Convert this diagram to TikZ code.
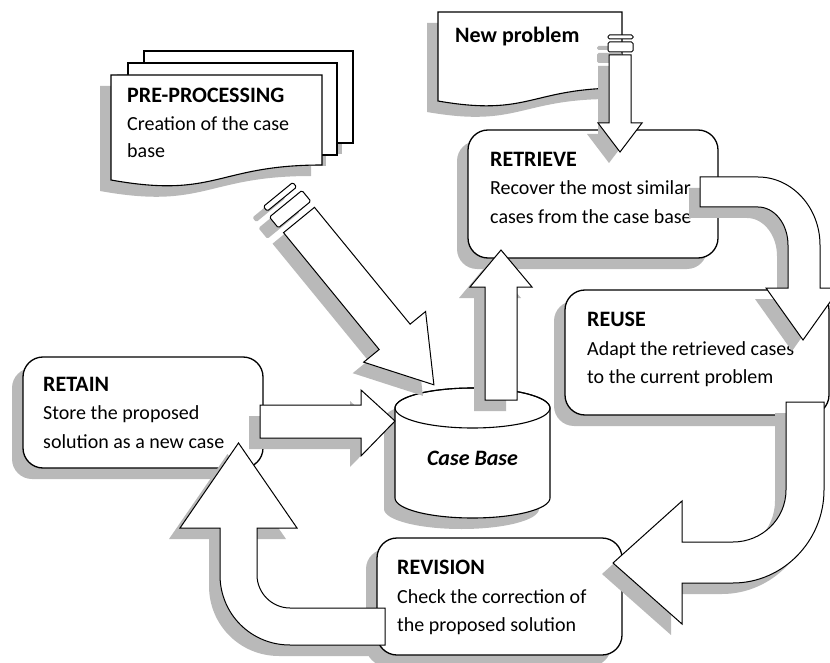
\documentclass[tikz,border=0pt]{standalone}
\usepackage{fontspec}
\setmainfont{Carlito}
\usetikzlibrary{shadows}

\newcommand{\hd}[1]{{\fontsize{22}{28.5}\selectfont\bfseries #1}}

\begin{document}
\begin{tikzpicture}[
  x=1pt, y=-1pt,
  shad/.style={general shadow={fill=gray!55, shadow xshift=-11pt, shadow yshift=-11pt}},
  page/.style={draw, fill=white, line width=1.1pt, shad},
  box/.style={draw, fill=white, line width=1.3pt, rounded corners=20pt, shad, inner sep=0pt},
  barrow/.style={draw, fill=white, line width=1pt, shad},
  bar/.style={barrow, rounded corners=1.5pt},
  txt/.style={anchor=north west, inner sep=0pt, align=left,
              font=\fontsize{20}{28.5}\selectfont}]
  \useasboundingbox (0,0) rectangle (830,663);

  % documents -- pre-processing stack and new problem
  \draw[page] (144,51) rectangle (353,143);
  \draw[page] (128,63) rectangle (337,155);
  \draw[page] (111,75) -- (322,75) -- (322,165)
    .. controls (216.5,165) and (216.5,199) .. (111,180) -- cycle;
  \node[txt, font=\fontsize{20}{27.5}\selectfont] (preproc) at (127,88)
    {\hd{PRE-PROCESSING}\\Creation of the case\\base};
  \draw[page] (438,12) -- (622,12) -- (622,88)
    .. controls (530,88) and (530,117) .. (438,101) -- cycle;
  \node[txt] (newprob) at (455,27) {\hd{New problem}};

  % the four steps
  \node[box, minimum width=250pt, minimum height=128pt] (retrieve) at (593,194) {};
  \node[box, minimum width=264pt, minimum height=125pt] (reuse) at (697,352.5) {};
  \node[box, minimum width=240pt, minimum height=111pt] (retain) at (143,412.5) {};
  \node[box, minimum width=245pt, minimum height=117pt] (revision) at (499.5,596.5) {};
  \node[txt] (retrieve-txt) at (490,152)
    {\hd{RETRIEVE}\\Recover the most similar\\cases from the case base};
  \node[txt] (reuse-txt) at (587,312)
    {\hd{REUSE}\\Adapt the retrieved cases\\to the current problem};
  \node[txt] (retain-txt) at (43,377)
    {\hd{RETAIN}\\Store the proposed\\solution as a new case};
  \node[txt] (revision-txt) at (397,560)
    {\hd{REVISION}\\Check the correction of\\the proposed solution};

  % case base cylinder
  \draw[page] (395,408) -- (395,498)
    arc[start angle=180, end angle=360, x radius=77.5pt, y radius=20pt]
    -- (550,408) arc[start angle=0, end angle=180, x radius=77.5pt, y radius=20pt];
  \draw[line width=1.1pt] (472.5,408) ellipse[x radius=77.5pt, y radius=20pt];
  \node[font=\fontsize{22}{25}\selectfont\bfseries\itshape] (casebase) at (472.5,458) {Case Base};

  % new problem -> retrieve
  \draw[bar] (608,35) -- (633,35) -- (633,39) -- (608,39) -- cycle;
  \draw[bar] (608,42) -- (633,42) -- (633,52) -- (608,52) -- cycle;
  \draw[barrow] (609,55) -- (631,55) -- (631,123) -- (642,123) -- (620,152)
    -- (598,123) -- (609,123) -- cycle;

  % pre-processing -> case base
  \begin{scope}[shift={(299,220)}, rotate=-50.7]
    \draw[bar] (-33,-19) -- (-27,-19) -- (-27,19) -- (-33,19) -- cycle;
    \draw[bar] (-21,-21) -- (-7,-21) -- (-7,21) -- (-21,21) -- cycle;
    \draw[barrow] (0,-20) -- (151,-20) -- (151,-40) -- (213,0) -- (151,40)
      -- (151,20) -- (0,20) -- cycle;
  \end{scope}

  % case base -> retrieve
  \draw[barrow] (485,400) -- (485,287) -- (470,287) -- (501,250) -- (532,287)
    -- (517,287) -- (517,400) -- cycle;

  % retain -> case base
  \draw[barrow] (260,405) -- (361,405) -- (361,390) -- (395,421) -- (361,456)
    -- (361,438) -- (260,438) -- cycle;

  % retrieve -> reuse
  \draw[barrow] (700,177) -- (758,177) .. controls (792,177) and (820,207.5) .. (820,245)
    -- (820,288) -- (840,288) -- (803,340) -- (766,288) -- (788,288) -- (788,245)
    .. controls (788,224) and (774.5,207) .. (758,207) -- (700,207) -- cycle;

  % reuse -> revision
  \draw[barrow] (786,402) -- (824,402) -- (824,490)
    .. controls (824,541) and (783,583) .. (733,583) -- (682,583) -- (682,624)
    -- (613,563) -- (682,501) -- (682,542) -- (733,542)
    .. controls (762,542) and (786,519) .. (786,490) -- cycle;

  % revision -> retain
  \draw[barrow] (385,608) -- (290,608) .. controls (272,608) and (257,593) .. (257,575)
    -- (257,528) -- (297,528) -- (238.5,443) -- (180,528) -- (220,528) -- (220,575)
    .. controls (220,614) and (251,645) .. (290,645) -- (385,645) -- cycle;
\end{tikzpicture}
\end{document}
